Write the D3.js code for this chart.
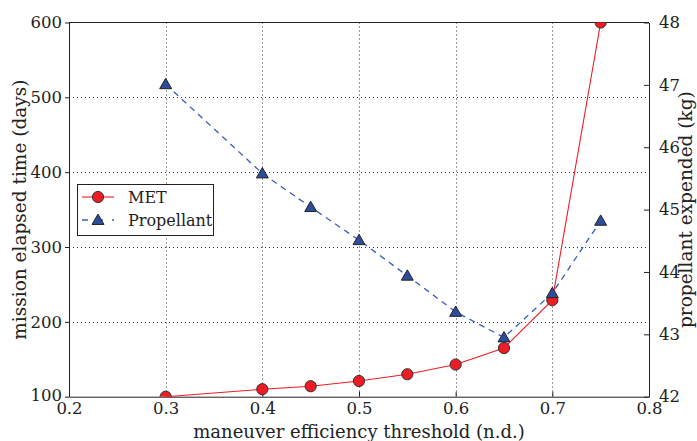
<!DOCTYPE html>
<html><head><meta charset="utf-8">
<script src="https://cdn.jsdelivr.net/npm/d3@7"></script>
<style>body{margin:0;background:#fff}svg text{font-family:"DejaVu Serif",serif;fill:#222}</style>
</head><body><svg id="c" width="697" height="441"></svg>
<script>
const thresholds = [0.3, 0.4, 0.45, 0.5, 0.55, 0.6, 0.65, 0.7, 0.75];
const metDays = [100, 110, 114, 121, 130, 143, 165, 229, 600];
const propellantKg = [47.01, 45.58, 45.04, 44.51, 43.94, 43.36, 42.95, 43.66, 44.82];
const xTicks = [0.2, 0.3, 0.4, 0.5, 0.6, 0.7, 0.8];
const leftTicks = [100, 200, 300, 400, 500, 600];
const rightTicks = [42, 43, 44, 45, 46, 47, 48];
const seriesNames = ["MET", "Propellant"];

const L = 69, R = 649, T = 22.5, B = 396.7;
const svg = d3.select("#c");
const x = d3.scaleLinear().domain([0.2, 0.8]).range([L, R]);
const yL = d3.scaleLinear().domain([100, 600]).range([B, T]);
const yR = d3.scaleLinear().domain([42, 48]).range([B, T]);

// grid
const grid = svg.append("g").attr("stroke", "#333").attr("stroke-width", 1).attr("stroke-dasharray", "1,3");
grid.selectAll("line.v").data(xTicks.slice(1, -1)).join("line")
  .attr("x1", d => Math.round(x(d)) + 0.5).attr("x2", d => Math.round(x(d)) + 0.5).attr("y1", T).attr("y2", B);
grid.selectAll("line.h").data(leftTicks.slice(1, -1)).join("line")
  .attr("y1", d => Math.round(yL(d)) + 0.5).attr("y2", d => Math.round(yL(d)) + 0.5).attr("x1", L).attr("x2", R);

// axes
const fs = "16.5px";
const ax = svg.append("g").attr("transform", `translate(0,${B})`)
  .call(d3.axisBottom(x).tickValues(xTicks).tickFormat(d3.format(".1f")).tickSizeInner(-5).tickSizeOuter(0).tickPadding(6));
const al = svg.append("g").attr("transform", `translate(${L},0)`)
  .call(d3.axisLeft(yL).tickValues(leftTicks).tickFormat(d3.format("d")).tickSizeInner(4).tickSizeOuter(0).tickPadding(3));
const ar = svg.append("g").attr("transform", `translate(${R},0)`)
  .call(d3.axisRight(yR).tickValues(rightTicks).tickFormat(d3.format("d")).tickSizeInner(-5).tickSizeOuter(0).tickPadding(10));
[ax, al, ar].forEach(g => {
  g.selectAll("text").style("font-size", fs).attr("fill", "#222");
  g.selectAll("line").attr("stroke", "#222");
  g.select(".domain").attr("stroke", "#222");
  g.attr("font-family", null);
});
ax.selectAll("text").attr("y", 5.5).attr("dy", "0.71em");
al.selectAll("text").attr("dy", d => d === 100 ? "0.2em" : "0.32em");
// top frame
svg.append("line").attr("x1", L).attr("x2", R).attr("y1", T).attr("y2", T).attr("stroke", "#222");

// lines
const metData = thresholds.map((t, i) => ({t, v: metDays[i]}));
const propData = thresholds.map((t, i) => ({t, v: propellantKg[i]}));
svg.append("path").datum(propData).attr("fill", "none").attr("stroke", "#3a5bbf").attr("stroke-width", 1.3)
  .attr("stroke-dasharray", "6,5")
  .attr("d", d3.line().x(d => x(d.t)).y(d => yR(d.v)));
svg.append("path").datum(metData).attr("fill", "none").attr("stroke", "#ee1c25").attr("stroke-width", 1.1)
  .attr("d", d3.line().x(d => x(d.t)).y(d => yL(d.v)));

const tri = d3.symbol().type(d3.symbolTriangle).size(62);
svg.append("clipPath").attr("id", "pc").append("rect").attr("x", 0).attr("y", T).attr("width", 697).attr("height", B - T);
svg.append("g").attr("clip-path", "url(#pc)").selectAll("circle").data(metData).join("circle")
  .attr("cx", d => x(d.t)).attr("cy", d => yL(d.v)).attr("r", 5.6)
  .attr("fill", "#ee1c25").attr("stroke", "#333").attr("stroke-width", 1);
svg.append("g").selectAll("path").data(propData).join("path")
  .attr("transform", d => `translate(${x(d.t)},${yR(d.v) + 1})`).attr("d", tri)
  .attr("fill", "#2d4d9c").attr("stroke", "#222").attr("stroke-width", 1);

// legend
const lg = svg.append("g");
lg.append("rect").attr("x", 77.5).attr("y", 184.5).attr("width", 136).attr("height", 51)
  .attr("fill", "#fff").attr("stroke", "#222").attr("stroke-width", 1);
lg.append("line").attr("x1", 82).attr("x2", 114).attr("y1", 197).attr("y2", 197).attr("stroke", "#ee1c25").attr("stroke-width", 1.1);
lg.append("circle").attr("cx", 98).attr("cy", 197).attr("r", 5.6).attr("fill", "#ee1c25").attr("stroke", "#333");
lg.append("line").attr("x1", 82).attr("x2", 114).attr("y1", 220).attr("y2", 220).attr("stroke", "#3a5bbf").attr("stroke-width", 1.3).attr("stroke-dasharray", "6,9");
lg.append("path").attr("transform", "translate(98,221)").attr("d", tri).attr("fill", "#2d4d9c").attr("stroke", "#222");
lg.selectAll("text").data(seriesNames).join("text")
  .attr("x", 128).attr("y", (d, i) => 197 + i * 23).attr("dy", "0.35em")
  .style("font-size", "16px").text(d => d);

// axis titles
svg.append("text").attr("x", (L + R) / 2).attr("y", 438).attr("text-anchor", "middle").style("font-size", "18px")
  .text("maneuver efficiency threshold (n.d.)");
svg.append("text").attr("transform", `translate(26,${(T + B) / 2}) rotate(-90)`).attr("text-anchor", "middle").style("font-size", "18.5px")
  .text("mission elapsed time (days)");
svg.append("text").attr("transform", `translate(679,${(T + B) / 2}) rotate(-90)`).attr("text-anchor", "middle").attr("dy", "0.72em").style("font-size", "18.5px")
  .text("propellant expended (kg)");
</script></body></html>
